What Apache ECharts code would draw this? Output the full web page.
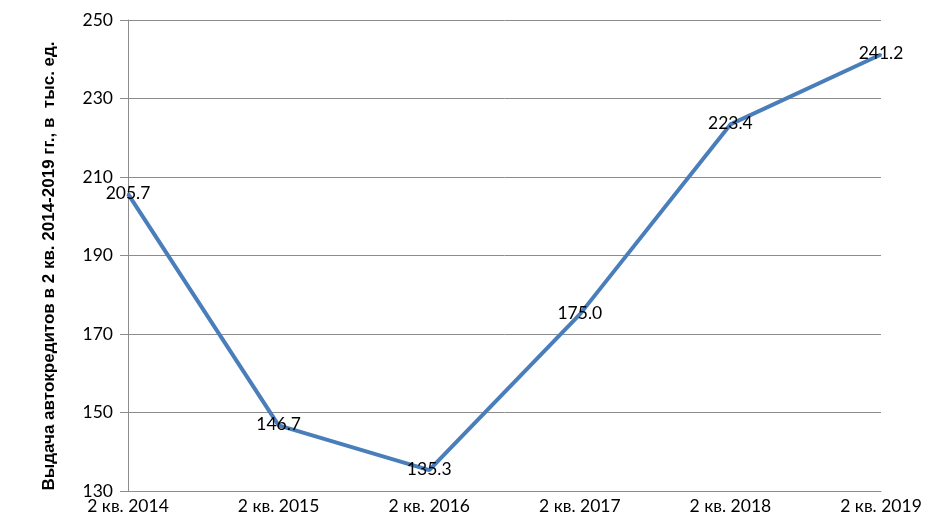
<!DOCTYPE html>
<html><head><meta charset="utf-8">
<script src="https://cdn.jsdelivr.net/npm/echarts@6/dist/echarts.min.js"></script>
<style>html,body{margin:0;padding:0;background:#fff}#c{width:950px;height:521px}</style>
</head><body><div id="c"></div>
<script>
const categories = ['2 кв. 2014','2 кв. 2015','2 кв. 2016','2 кв. 2017','2 кв. 2018','2 кв. 2019'];
const values = [205.7, 146.7, 135.3, 175.0, 223.4, 241.2];
const yTitle = 'Выдача автокредитов в 2 кв. 2014-2019 гг., в  тыс. ед.';
const chart = echarts.init(document.getElementById('c'));
chart.setOption({
  animation: false,
  grid: {left: 128, right: 69, top: 20, bottom: 30, containLabel: false},
  graphic: [{
    type: 'text', x: 49, y: 266, rotation: Math.PI / 2,
    style: {text: yTitle, fill: '#000', font: 'bold 17px "Liberation Sans", Arial, sans-serif',
      textAlign: 'center', textVerticalAlign: 'middle'}
  }],
  xAxis: {
    type: 'category', data: categories, boundaryGap: false,
    axisLine: {lineStyle: {color: '#8c8c8c', width: 1}},
    axisTick: {show: false},
    axisLabel: {color: '#000', fontFamily: 'Lato', fontSize: 17.5, margin: 6, interval: 0}
  },
  yAxis: {
    type: 'value', min: 130, max: 250, interval: 20,
    axisLine: {show: true, lineStyle: {color: '#8c8c8c', width: 1}},
    axisTick: {show: true, length: 8, lineStyle: {color: '#8c8c8c'}},
    splitLine: {lineStyle: {color: '#8c8c8c', width: 1}},
    axisLabel: {color: '#000', fontFamily: 'Lato', fontSize: 17.5, margin: 15}
  },
  series: [{
    type: 'line', data: values, symbol: 'circle', symbolSize: 2, showSymbol: true,
    itemStyle: {color: '#4a7ebb'},
    lineStyle: {color: '#4a7ebb', width: 4},
    label: {show: true, position: 'top', distance: 0, verticalAlign: 'middle', color: '#000',
      fontFamily: 'Lato', fontSize: 17.5, formatter: function (p) { return Number(p.value).toFixed(1); }},
    labelLayout: {hideOverlap: false}
  }]
});
</script></body></html>
